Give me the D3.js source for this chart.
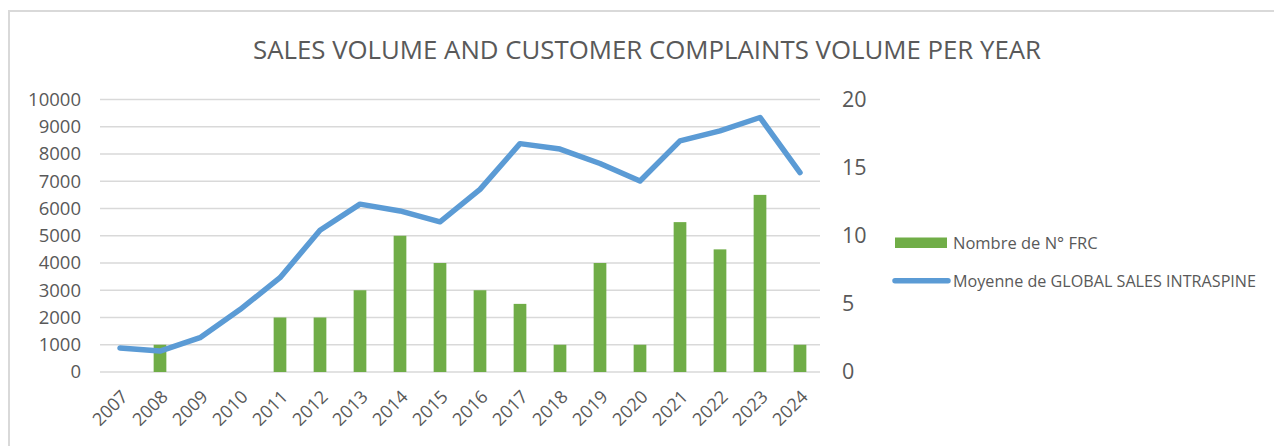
<!DOCTYPE html>
<html>
<head>
<meta charset="utf-8">
<script src="https://cdn.jsdelivr.net/npm/d3@7/dist/d3.min.js"></script>
<style>
  html, body { margin: 0; padding: 0; background: #fff; }
  svg { display: block; font-family: "Open Sans", "Noto Sans", sans-serif; }
</style>
</head>
<body>
<svg id="chart" width="1274" height="446"></svg>
<script>
// Years on the category axis
const years = ["2007","2008","2009","2010","2011","2012","2013","2014","2015","2016","2017","2018","2019","2020","2021","2022","2023","2024"];
// Average global sales (left axis)
const sales = [880, 770, 1260, 2290, 3460, 5200, 6160, 5910, 5510, 6700, 8380, 8180, 7650, 7010, 8480, 8850, 9340, 7320];
// Number of complaints (right axis)
const complaints = [0, 2, 0, 0, 4, 4, 6, 10, 8, 6, 5, 2, 8, 2, 11, 9, 13, 2];
const leftTicks = [0,1000,2000,3000,4000,5000,6000,7000,8000,9000,10000];
const rightTicks = [0,5,10,15,20];

const title = "SALES VOLUME AND CUSTOMER COMPLAINTS VOLUME PER YEAR";
const barLabel = "Nombre de N° FRC";
const lineLabel = "Moyenne de GLOBAL SALES INTRASPINE";

const svg = d3.select("#chart");
const plot = { left: 100, right: 820, top: 99.5, bottom: 372 };

// chart frame
svg.append("path")
  .attr("d", `M9,446 V11 H1274`)
  .attr("fill", "none").attr("stroke", "#d9d9d9").attr("stroke-width", 2);

const x = d3.scaleBand().domain(years).range([plot.left, plot.right]);
const yL = d3.scaleLinear().domain([0, 10000]).range([plot.bottom, plot.top]);
const yR = d3.scaleLinear().domain([0, 20]).range([plot.bottom, plot.top]);

// gridlines
svg.append("g").selectAll("line").data(leftTicks).join("line")
  .attr("x1", plot.left).attr("x2", plot.right)
  .attr("y1", d => yL(d)).attr("y2", d => yL(d))
  .attr("stroke", "#d9d9d9").attr("stroke-width", 1.5);

// title
svg.append("text")
  .attr("x", 253).attr("y", 58.5)
  .attr("textLength", 788).attr("lengthAdjust", "spacingAndGlyphs")
  .attr("font-size", 25).attr("fill", "#595959")
  .text(title);

// left axis
const axL = svg.append("g").attr("transform", `translate(${plot.left},0)`)
  .call(d3.axisLeft(yL).tickValues(leftTicks).tickSize(0).tickPadding(19).tickFormat(d3.format("d")));
axL.select(".domain").remove();
axL.selectAll("text").attr("font-size", 18.5).attr("fill", "#595959").attr("font-family", "Open Sans");

// right axis
const axR = svg.append("g").attr("transform", `translate(${plot.right},0)`)
  .call(d3.axisRight(yR).tickValues(rightTicks).tickSize(0).tickPadding(22));
axR.select(".domain").remove();
axR.selectAll("text").attr("font-size", 21.5).attr("fill", "#595959").attr("font-family", "Open Sans");

// category axis, labels slanted at 45°
const axB = svg.append("g").attr("transform", `translate(0,${plot.bottom})`)
  .call(d3.axisBottom(x).tickSize(0).tickPadding(0));
axB.select(".domain").remove();
axB.selectAll("text")
  .attr("font-size", 18).attr("fill", "#595959").attr("font-family", "Open Sans")
  .attr("text-anchor", "end")
  .attr("dy", null).attr("y", 0)
  .attr("transform", "translate(9,26) rotate(-45)");

// bars
const barW = 12.7;
svg.append("g").selectAll("rect").data(years.map((y, i) => ({ y, v: complaints[i] })).filter(d => d.v > 0))
  .join("rect")
  .attr("x", d => x(d.y) + x.bandwidth() / 2 - barW / 2)
  .attr("width", barW)
  .attr("y", d => yR(d.v))
  .attr("height", d => yR(0) - yR(d.v))
  .attr("fill", "#70ad47");

// sales line
const line = d3.line().x((d, i) => x(years[i]) + x.bandwidth() / 2).y(d => yL(d));
svg.append("path").datum(sales)
  .attr("d", line)
  .attr("fill", "none").attr("stroke", "#5b9bd5").attr("stroke-width", 5.5)
  .attr("stroke-linecap", "round").attr("stroke-linejoin", "round");

// legend
const lg = svg.append("g");
lg.append("rect").attr("x", 895).attr("y", 237.5).attr("width", 52).attr("height", 10.5).attr("fill", "#70ad47");
lg.append("text").attr("x", 953).attr("y", 248.5).attr("font-size", 16.5).attr("fill", "#595959").text(barLabel);
lg.append("line").attr("x1", 895).attr("x2", 948).attr("y1", 280.7).attr("y2", 280.7)
  .attr("stroke", "#5b9bd5").attr("stroke-width", 5.5).attr("stroke-linecap", "round");
lg.append("text").attr("x", 953).attr("y", 287).attr("font-size", 16.5).attr("fill", "#595959")
  .attr("textLength", 303).attr("lengthAdjust", "spacingAndGlyphs").text(lineLabel);
</script>
</body>
</html>
